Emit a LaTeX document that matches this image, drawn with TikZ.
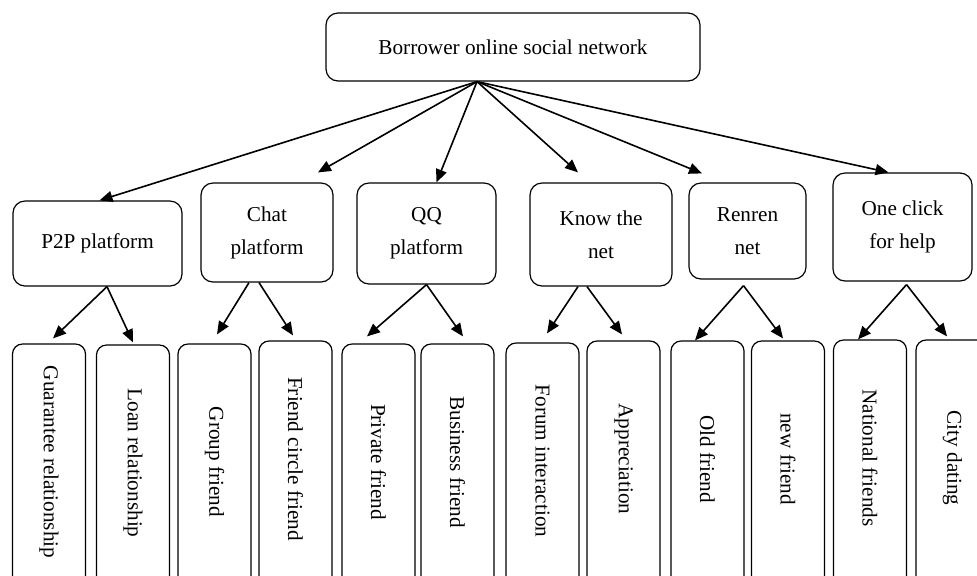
\documentclass[tikz,border=0pt]{standalone}
\usepackage{fontspec}
\setmainfont{Liberation Serif}
\usetikzlibrary{arrows.meta}
\newcommand{\vtext}[1]{\rotatebox{-90}{#1\hspace{32pt}}}

\begin{document}
\begin{tikzpicture}[x=0.5pt,y=-0.5pt,
  box/.style={draw,rounded corners=6pt,line width=0.6pt,align=center,inner sep=1pt,
    font=\fontsize{10.6}{16.5}\selectfont},
  leaf/.style={box,rounded corners=5pt,minimum width=36.5pt,minimum height=150pt},
  arr/.style={-{Triangle[length=6.5pt,width=5.5pt]},line width=0.8pt}]
\useasboundingbox (0,0) rectangle (977,575);
\clip (0,0) rectangle (977,575);
% root
\node[box,minimum width=187pt,minimum height=34pt] (bosn) at (513,47) {Borrower online social network};
% platforms
\node[box,minimum width=84.5pt,minimum height=42.5pt] (p2p) at (97.5,243.5) {P2P platform};
\node[box,minimum width=66pt,minimum height=49.5pt] (chat) at (267,232.5) {Chat\\platform};
\node[box,minimum width=69.5pt,minimum height=50.5pt] (qq) at (426.5,233.5) {QQ\\platform};
\node[box,minimum width=71pt,minimum height=51.5pt] (know) at (601,234.5) {Know the\\net};
\node[box,minimum width=58.5pt,minimum height=48pt] (renren) at (747.5,231) {Renren\\net};
\node[box,minimum width=69.5pt,minimum height=54pt] (oneclick) at (902.5,227) {One click\\for help};
% relations
\node[leaf] (guar) at (49,494) {\vtext{Guarantee relationship}};
\node[leaf] (loan) at (133,495) {\vtext{Loan relationship}};
\node[leaf] (group) at (214.5,494) {\vtext{Group friend}};
\node[leaf] (circle) at (295.5,491) {\vtext{Friend circle friend}};
\node[leaf] (private) at (378.5,494) {\vtext{Private friend}};
\node[leaf] (business) at (457.5,494) {\vtext{Business friend}};
\node[leaf] (forum) at (542.5,493) {\vtext{Forum interaction}};
\node[leaf] (apprec) at (623.5,491) {\vtext{Appreciation}};
\node[leaf] (old) at (707.5,491) {\vtext{Old friend}};
\node[leaf] (new) at (788,491) {\vtext{new friend}};
\node[leaf] (national) at (870,490) {\vtext{National friends}};
\node[leaf] (city) at (952.5,490) {\vtext{City dating}};
% root to platforms
\coordinate (r) at ([xshift=-18pt]bosn.south);
\draw[arr] (r) -- ([xshift=1pt]p2p.north);
\draw[arr] (r) -- ([xshift=25.5pt,yshift=5pt]chat.north);
\draw[arr] (r) -- ([xshift=5pt]qq.north);
\draw[arr] (r) -- ([xshift=-11.5pt,yshift=5pt]know.north);
\draw[arr] (r) -- ([xshift=-22.75pt,yshift=4.5pt]renren.north);
\draw[arr] (r) -- ([xshift=-7pt]oneclick.north);
% platforms to relations
\draw[arr] ([xshift=4.75pt]p2p.south) -- ([xshift=2pt,yshift=2.5pt]guar.north);
\draw[arr] ([xshift=4.75pt]p2p.south) -- ([yshift=1pt]loan.north);
\draw[arr] ([xshift=-9pt]chat.south) -- ([xshift=1.25pt,yshift=4.5pt]group.north);
\draw[arr] ([xshift=-4pt]chat.south) -- ([xshift=-1.25pt,yshift=2.5pt]circle.north);
\draw[arr] (qq.south) -- ([xshift=-5.75pt,yshift=3.5pt]private.north);
\draw[arr] (qq.south) -- ([xshift=2.75pt,yshift=3.5pt]business.north);
\draw[arr] ([xshift=-11.5pt]know.south) -- ([xshift=2.25pt,yshift=4.5pt]forum.north);
\draw[arr] ([xshift=-7pt]know.south) -- ([xshift=-0.75pt,yshift=3pt]apprec.north);
\draw[arr] ([xshift=-2pt,yshift=-3pt]renren.south) -- ([xshift=-6.25pt]old.north);
\draw[arr] ([xshift=-2pt,yshift=-3pt]renren.south) -- ([xshift=-2.5pt,yshift=1pt]new.north);
\draw[arr] ([xshift=2pt,yshift=-1.5pt]oneclick.south) -- ([xshift=-6pt]national.north);
\draw[arr] ([xshift=2pt,yshift=-1.5pt]oneclick.south) -- ([xshift=-2.75pt,yshift=1.5pt]city.north);
\end{tikzpicture}
\end{document}
